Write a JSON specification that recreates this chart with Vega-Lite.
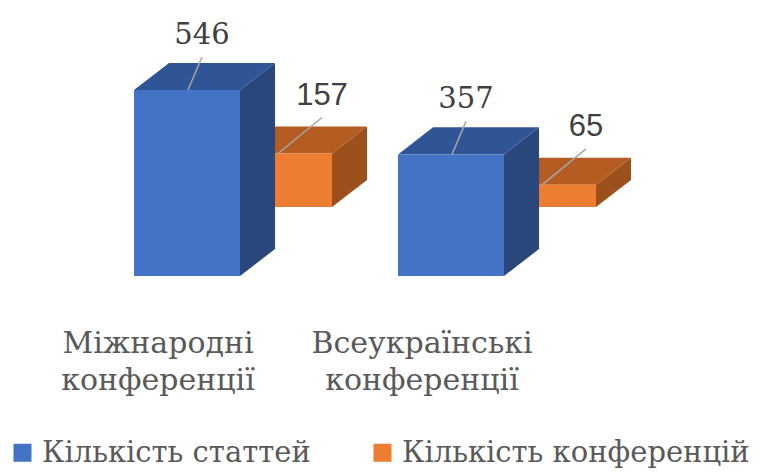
{
  "$schema": "https://vega.github.io/schema/vega-lite/v6.json",
  "width": 768,
  "height": 473,
  "autosize": {"type": "fit", "contains": "padding"},
  "padding": 0,
  "background": "white",
  "config": {"view": {"stroke": null}},
  "data": {
    "values": [
      {"category": "Міжнародні конференції", "series": "Кількість статтей", "value": 546},
      {"category": "Міжнародні конференції", "series": "Кількість конференцій", "value": 157},
      {"category": "Всеукраїнські конференції", "series": "Кількість статтей", "value": 357},
      {"category": "Всеукраїнські конференції", "series": "Кількість конференцій", "value": 65}
    ]
  },
  "transform": [
    {"calculate": "indexof(['Міжнародні конференції','Всеукраїнські конференції'], datum.category)", "as": "g"},
    {"calculate": "datum.series === 'Кількість статтей' ? 0 : 1", "as": "s"},
    {"calculate": "datum.g + 0.3485*datum.s", "as": "x0"},
    {"calculate": "datum.x0 + 0.4015", "as": "x1"},
    {"calculate": "202.5*datum.s", "as": "base"},
    {"calculate": "datum.base + datum.value", "as": "top"}
  ],
  "layer": [
    {
      "transform": [{"filter": "datum.s === 1"}],
      "layer": [
        {
          "transform": [
            {"calculate": "[0,1]", "as": "k"},
            {"flatten": ["k"]},
            {"calculate": "datum.x1 + datum.k*0.1326", "as": "px"},
            {"calculate": "datum.top + datum.k*79.3", "as": "py"},
            {"calculate": "datum.base + datum.k*79.3", "as": "py2"}
          ],
          "mark": {"type": "area", "fill": "#9C501C", "interpolate": "linear"},
          "encoding": {
            "x": {"field": "px", "type": "quantitative", "scale": {"domain": [-0.5076, 2.4015], "nice": false, "zero": false}, "axis": null},
            "y": {"field": "py", "type": "quantitative", "stack": null, "scale": {"domain": [-578.3, 810.2], "nice": false, "zero": false}, "axis": null},
            "y2": {"field": "py2"},
            "detail": {"field": "category"}
          }
        },
        {
          "transform": [
            {"calculate": "[0,1,2,3]", "as": "k"},
            {"flatten": ["k"]},
            {"calculate": "datum.k === 0 ? datum.x0 : datum.k === 1 ? datum.x0 + 0.1326 : datum.k === 2 ? datum.x1 : datum.x1 + 0.1326", "as": "px"},
            {"calculate": "datum.k === 0 ? datum.top : datum.top + 79.3", "as": "py"},
            {"calculate": "datum.k === 3 ? datum.top + 79.3 : datum.top", "as": "py2"}
          ],
          "mark": {"type": "area", "fill": "#B45C22", "interpolate": "linear"},
          "encoding": {
            "x": {"field": "px", "type": "quantitative", "scale": {"domain": [-0.5076, 2.4015], "nice": false, "zero": false}, "axis": null},
            "y": {"field": "py", "type": "quantitative", "stack": null, "scale": {"domain": [-578.3, 810.2], "nice": false, "zero": false}, "axis": null},
            "y2": {"field": "py2"},
            "detail": {"field": "category"}
          }
        },
        {
          "mark": {"type": "rect"},
          "encoding": {
            "x": {"field": "x0", "type": "quantitative", "scale": {"domain": [-0.5076, 2.4015], "nice": false, "zero": false}, "axis": null},
            "x2": {"field": "x1"},
            "y": {"field": "top", "type": "quantitative", "scale": {"domain": [-578.3, 810.2], "nice": false, "zero": false}, "axis": null},
            "y2": {"field": "base"},
            "color": {
              "field": "series",
              "type": "nominal",
              "scale": {"domain": ["Кількість статтей", "Кількість конференцій"], "range": ["#4472C4", "#ED7D31"]},
              "legend": {
                "orient": "none",
                "legendX": 8,
                "legendY": 438,
                "direction": "horizontal",
                "title": null,
                "symbolType": "square",
                "symbolSize": 324,
                "symbolStrokeWidth": 0,
                "symbolOpacity": 1,
                "labelFont": "DejaVu Serif",
                "labelFontSize": 29,
                "labelColor": "#595959",
                "labelOffset": 5,
                "labelLimit": 500,
                "columnPadding": 57,
                "padding": 0
              }
            }
          }
        }
      ]
    },
    {
      "transform": [{"filter": "datum.s === 0"}],
      "layer": [
        {
          "transform": [
            {"calculate": "[0,1]", "as": "k"},
            {"flatten": ["k"]},
            {"calculate": "datum.x1 + datum.k*0.1326", "as": "px"},
            {"calculate": "datum.top + datum.k*79.3", "as": "py"},
            {"calculate": "datum.base + datum.k*79.3", "as": "py2"}
          ],
          "mark": {"type": "area", "fill": "#2A477C", "interpolate": "linear"},
          "encoding": {
            "x": {"field": "px", "type": "quantitative", "scale": {"domain": [-0.5076, 2.4015], "nice": false, "zero": false}, "axis": null},
            "y": {"field": "py", "type": "quantitative", "stack": null, "scale": {"domain": [-578.3, 810.2], "nice": false, "zero": false}, "axis": null},
            "y2": {"field": "py2"},
            "detail": {"field": "category"}
          }
        },
        {
          "transform": [
            {"calculate": "[0,1,2,3]", "as": "k"},
            {"flatten": ["k"]},
            {"calculate": "datum.k === 0 ? datum.x0 : datum.k === 1 ? datum.x0 + 0.1326 : datum.k === 2 ? datum.x1 : datum.x1 + 0.1326", "as": "px"},
            {"calculate": "datum.k === 0 ? datum.top : datum.top + 79.3", "as": "py"},
            {"calculate": "datum.k === 3 ? datum.top + 79.3 : datum.top", "as": "py2"}
          ],
          "mark": {"type": "area", "fill": "#2F5596", "interpolate": "linear"},
          "encoding": {
            "x": {"field": "px", "type": "quantitative", "scale": {"domain": [-0.5076, 2.4015], "nice": false, "zero": false}, "axis": null},
            "y": {"field": "py", "type": "quantitative", "stack": null, "scale": {"domain": [-578.3, 810.2], "nice": false, "zero": false}, "axis": null},
            "y2": {"field": "py2"},
            "detail": {"field": "category"}
          }
        },
        {
          "mark": {"type": "rect"},
          "encoding": {
            "x": {"field": "x0", "type": "quantitative", "scale": {"domain": [-0.5076, 2.4015], "nice": false, "zero": false}, "axis": null},
            "x2": {"field": "x1"},
            "y": {"field": "top", "type": "quantitative", "scale": {"domain": [-578.3, 810.2], "nice": false, "zero": false}, "axis": null},
            "y2": {"field": "base"},
            "color": {"field": "series", "type": "nominal"}
          }
        }
      ]
    },
    {
      "transform": [
        {"calculate": "datum.x0 + (datum.s === 0 ? 0.2045 : 0.197)", "as": "lx1"},
        {"calculate": "datum.x0 + (datum.s === 0 ? 0.2576 : 0.3636)", "as": "lx2"},
        {"calculate": "datum.top + (datum.s === 0 ? 96.9 : 105.7)", "as": "ly2"}
      ],
      "mark": {"type": "rule", "color": "#A6A6A6", "strokeWidth": 1.5},
      "encoding": {
        "x": {"field": "lx1", "type": "quantitative", "scale": {"domain": [-0.5076, 2.4015], "nice": false, "zero": false}, "axis": null},
        "x2": {"field": "lx2"},
        "y": {"field": "top", "type": "quantitative", "scale": {"domain": [-578.3, 810.2], "nice": false, "zero": false}, "axis": null},
        "y2": {"field": "ly2"}
      }
    },
    {
      "transform": [
        {"filter": "datum.s === 0"},
        {"calculate": "datum.x0 + 0.2576", "as": "tx"},
        {"calculate": "datum.top + 135", "as": "ty"}
      ],
      "mark": {"type": "text", "font": "DejaVu Serif", "fontSize": 29, "color": "#404040", "align": "center", "baseline": "alphabetic"},
      "encoding": {
        "x": {"field": "tx", "type": "quantitative", "scale": {"domain": [-0.5076, 2.4015], "nice": false, "zero": false}, "axis": null},
        "y": {"field": "ty", "type": "quantitative", "scale": {"domain": [-578.3, 810.2], "nice": false, "zero": false}, "axis": null},
        "text": {"field": "value", "type": "quantitative"}
      }
    },
    {
      "transform": [
        {"filter": "datum.s === 1"},
        {"calculate": "datum.x0 + 0.3636", "as": "tx"},
        {"calculate": "datum.top + 143.8", "as": "ty"}
      ],
      "mark": {"type": "text", "font": "Liberation Sans", "fontSize": 31, "color": "#404040", "align": "center", "baseline": "alphabetic"},
      "encoding": {
        "x": {"field": "tx", "type": "quantitative", "scale": {"domain": [-0.5076, 2.4015], "nice": false, "zero": false}, "axis": null},
        "y": {"field": "ty", "type": "quantitative", "scale": {"domain": [-578.3, 810.2], "nice": false, "zero": false}, "axis": null},
        "text": {"field": "value", "type": "quantitative"}
      }
    },
    {
      "transform": [
        {"filter": "datum.s === 0"},
        {"calculate": "datum.g + 0.0909", "as": "tx"},
        {"calculate": "-226", "as": "ty"}
      ],
      "mark": {"type": "text", "font": "DejaVu Serif", "fontSize": 30, "color": "#595959", "align": "center", "baseline": "alphabetic", "lineBreak": " ", "lineHeight": 37},
      "encoding": {
        "x": {"field": "tx", "type": "quantitative", "scale": {"domain": [-0.5076, 2.4015], "nice": false, "zero": false}, "axis": null},
        "y": {"field": "ty", "type": "quantitative", "scale": {"domain": [-578.3, 810.2], "nice": false, "zero": false}, "axis": null},
        "text": {"field": "category", "type": "nominal"}
      }
    }
  ]
}
